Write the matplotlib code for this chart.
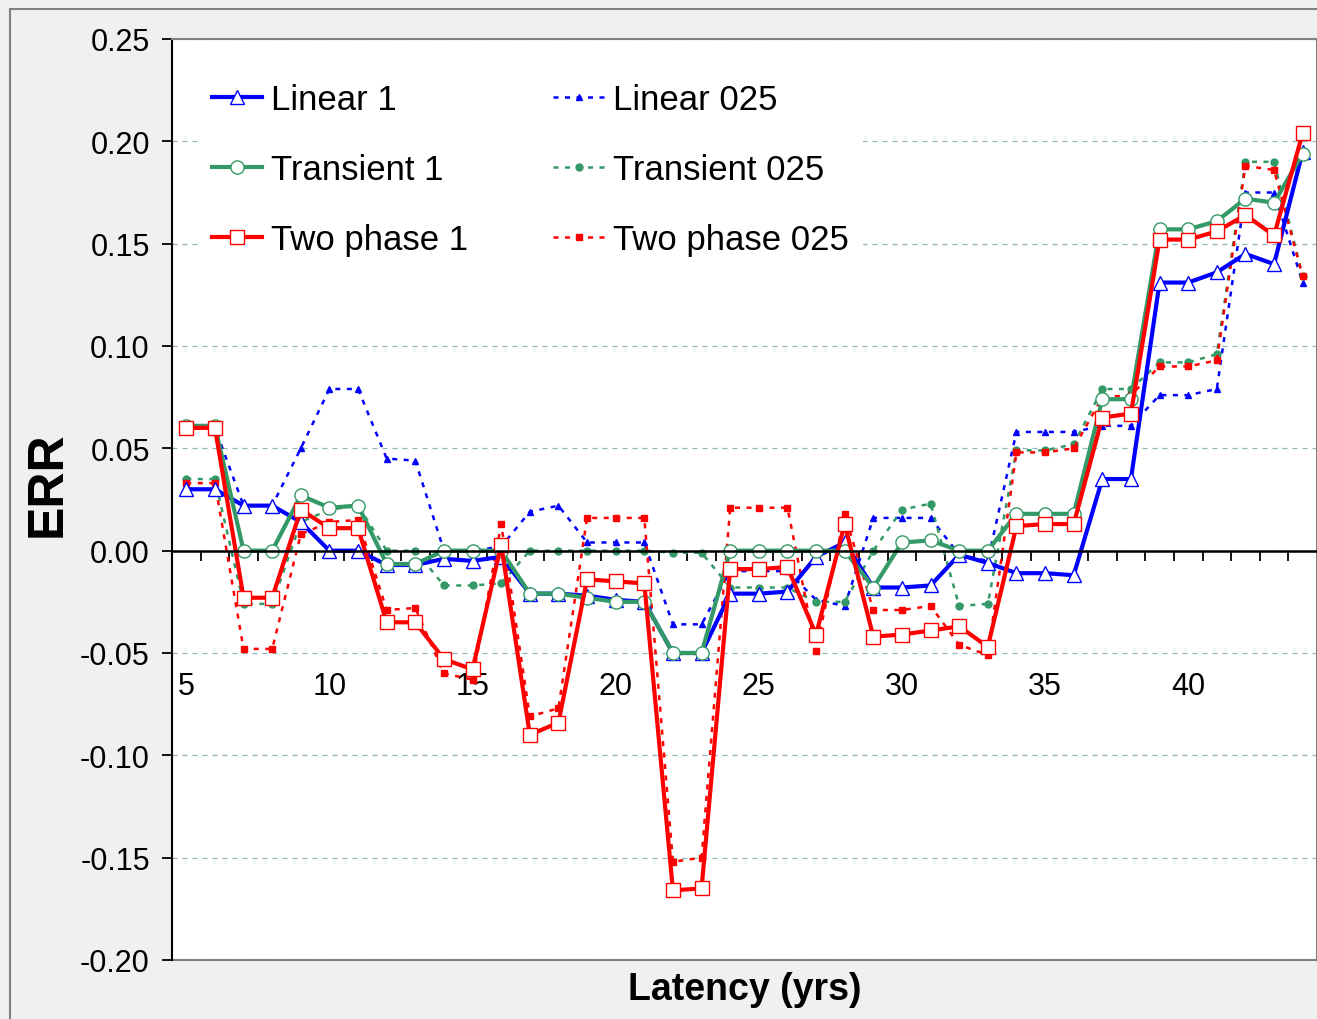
import numpy as np
import matplotlib.pyplot as plt
from matplotlib.patches import Rectangle

plt.rcParams['font.family'] = ['Liberation Sans', 'DejaVu Sans']
plt.rcParams['axes.unicode_minus'] = False

# data
years = list(range(5, 45))
linear_1 = [0.030, 0.030, 0.022, 0.022, 0.014, 0.000, 0.000, -0.007, -0.007, -0.004,
            -0.005, -0.003, -0.021, -0.021, -0.022, -0.024, -0.025, -0.050, -0.050, -0.021,
            -0.021, -0.020, -0.003, 0.004, -0.018, -0.018, -0.017, -0.002, -0.006, -0.011,
            -0.011, -0.012, 0.035, 0.035, 0.131, 0.131, 0.136, 0.145, 0.140, 0.195]
transient_1 = [0.061, 0.061, 0.000, 0.000, 0.027, 0.021, 0.022, -0.0065, -0.0065, 0.000,
               0.000, 0.000, -0.021, -0.021, -0.023, -0.025, -0.025, -0.050, -0.050, 0.000,
               0.000, 0.000, 0.000, 0.000, -0.018, 0.004, 0.005, 0.000, 0.000, 0.018,
               0.018, 0.018, 0.074, 0.074, 0.157, 0.157, 0.161, 0.172, 0.170, 0.194]
two_phase_1 = [0.060, 0.060, -0.023, -0.023, 0.020, 0.011, 0.011, -0.035, -0.035, -0.053,
               -0.058, 0.003, -0.090, -0.084, -0.014, -0.015, -0.016, -0.166, -0.165, -0.009,
               -0.009, -0.008, -0.041, 0.013, -0.042, -0.041, -0.039, -0.037, -0.047, 0.012,
               0.013, 0.013, 0.065, 0.067, 0.152, 0.152, 0.156, 0.164, 0.154, 0.204]
linear_025 = [0.060, 0.060, 0.022, 0.022, 0.050, 0.079, 0.079, 0.045, 0.044, 0.000,
              0.000, 0.002, 0.019, 0.022, 0.004, 0.004, 0.004, -0.036, -0.036, -0.010,
              -0.010, -0.010, -0.024, -0.027, 0.016, 0.016, 0.016, -0.002, -0.005, 0.058,
              0.058, 0.058, 0.061, 0.061, 0.076, 0.076, 0.079, 0.175, 0.175, 0.131]
transient_025 = [0.035, 0.035, -0.026, -0.026, 0.014, 0.020, 0.022, 0.000, 0.000, -0.017,
                 -0.017, -0.016, 0.000, 0.000, 0.000, 0.000, 0.000, -0.001, -0.001, -0.018,
                 -0.018, -0.018, -0.025, -0.025, 0.000, 0.020, 0.023, -0.027, -0.026, 0.049,
                 0.049, 0.052, 0.079, 0.079, 0.092, 0.092, 0.096, 0.190, 0.190, 0.134]
two_phase_025 = [0.033, 0.033, -0.048, -0.048, 0.008, 0.014, 0.015, -0.029, -0.028, -0.060,
                 -0.063, 0.013, -0.081, -0.077, 0.016, 0.016, 0.016, -0.152, -0.150, 0.021,
                 0.021, 0.021, -0.049, 0.018, -0.029, -0.029, -0.027, -0.046, -0.051, 0.048,
                 0.048, 0.050, 0.075, 0.076, 0.090, 0.090, 0.093, 0.188, 0.186, 0.134]

x_labels = [5, 10, 15, 20, 25, 30, 35, 40]
y_ticks = [-0.20, -0.15, -0.10, -0.05, 0.00, 0.05, 0.10, 0.15, 0.20, 0.25]

blue, green, red = '#0000ff', '#339966', '#ff0000'

fig = plt.figure(figsize=(13.17, 10.2), dpi=100, facecolor='#f0f0f0')
ax = fig.add_axes([172 / 1317, 1 - 961 / 1020, 1 - 172 / 1317, (961 - 40) / 1020])
ax.set_facecolor('white')

# outer chart border
fig.add_artist(Rectangle((10 / 1317, -0.1), 1.2, 1.1 - 10 / 1020, transform=fig.transFigure,
                         fill=False, edgecolor='#808080', lw=1.5))

dot = (0, (2, 2.6))
l025, = ax.plot(years, linear_025, color=blue, ls=dot, lw=1.8, marker='^', ms=5, mfc=blue, mec=blue)
t025, = ax.plot(years, transient_025, color=green, ls=dot, lw=1.8, marker='o', ms=5, mfc=green, mec=green)
p025, = ax.plot(years, two_phase_025, color=red, ls=dot, lw=1.8, marker='s', ms=5, mfc=red, mec=red)
l1, = ax.plot(years, linear_1, color=blue, lw=3, marker='^', ms=9.5, mfc='white', mec=blue, mew=1)
t1, = ax.plot(years, transient_1, color=green, lw=3, marker='o', ms=9.5, mfc='white', mec=green, mew=1)
p1, = ax.plot(years, two_phase_1, color=red, lw=3, marker='s', ms=9.5, mfc='white', mec=red, mew=1)

ax.set_xlim(4.5, 44.5)
ax.set_ylim(-0.20, 0.25)

# x axis sits on zero
ax.spines['bottom'].set_position(('data', 0))
ax.spines['bottom'].set_linewidth(1.8)
ax.spines['left'].set_linewidth(1.5)
for s in ['top', 'right']:
    ax.spines[s].set_color('#808080')
    ax.spines[s].set_linewidth(1.5)
ax.axhline(-0.20, color='#808080', lw=1.5, clip_on=False, zorder=0)

ax.set_xticks(x_labels)
ax.set_xticklabels([str(v) for v in x_labels])
ax.set_xticks(np.arange(4.5, 45, 1), minor=True)
ax.tick_params(axis='x', which='major', length=0, pad=87, labelsize=22)
ax.tick_params(axis='x', which='minor', length=7, width=1.3, direction='out')

ax.set_yticks(y_ticks)
ax.set_yticklabels(['{:.2f}'.format(v) for v in y_ticks])
ax.tick_params(axis='y', length=7, width=1.3, direction='out', pad=9, labelsize=22)
ax.yaxis.grid(True, linestyle=(0, (4, 4)), color='#8fb5b5', lw=0.9)
ax.set_axisbelow(True)

ax.set_xlabel('Latency (yrs)', fontsize=27, fontweight='bold')
ax.xaxis.set_label_coords(0.5, -0.0315)
ax.xaxis.label.set_va('center')
ax.set_ylabel('ERR', fontsize=36, fontweight='bold')
ax.yaxis.label.set(va='center', rotation_mode='default')
ax.yaxis.set_label_coords(-0.109, 0.518)

leg = ax.legend([l1, t1, p1, l025, t025, p025],
                ['Linear 1', 'Transient 1', 'Two phase 1', 'Linear 025', 'Transient 025', 'Two phase 025'],
                ncol=2, loc='upper left', bbox_to_anchor=(0.0227, 0.9675), fontsize=25,
                frameon=True, facecolor='white', edgecolor='none', framealpha=1, fancybox=False,
                handlelength=1.45, handletextpad=0.26, columnspacing=2.45, labelspacing=1.07,
                borderpad=0.4, borderaxespad=0)

fig.savefig('out.png', dpi=100, facecolor=fig.get_facecolor())
